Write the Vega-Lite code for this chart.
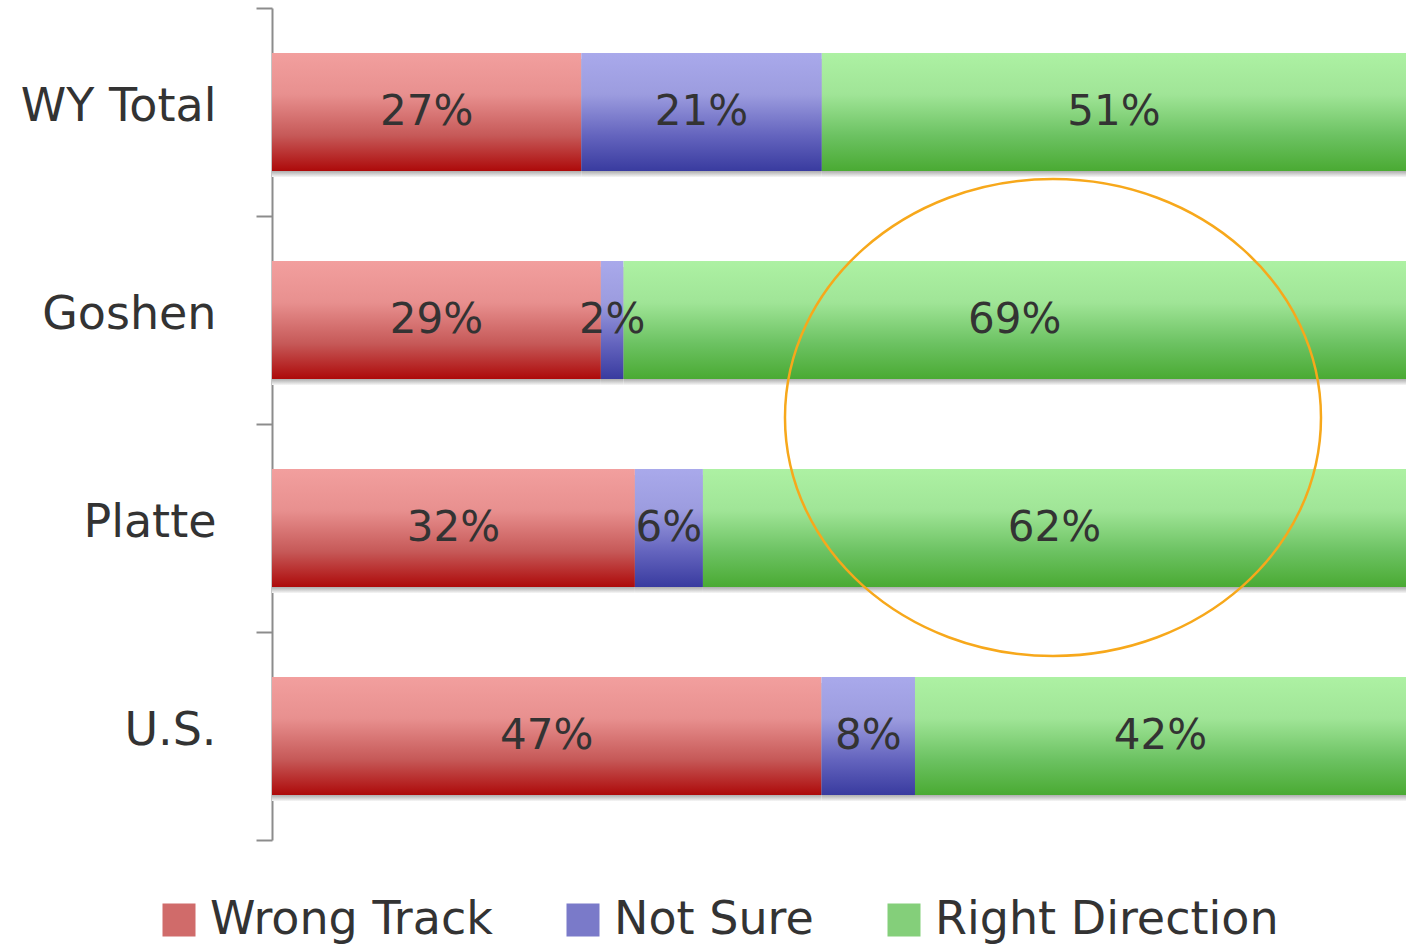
{
  "$schema": "https://vega.github.io/schema/vega-lite/v6.json",
  "width": 1134,
  "height": 832,
  "autosize": {"type": "none"},
  "padding": {"left": 272, "top": 8, "right": 0, "bottom": 107},
  "background": "white",
  "config": {"view": {"stroke": null}, "font": "DejaVu Sans"},
  "datasets": {
    "bars": [
      {"cat": "WY Total", "resp": "Wrong Track", "o": 0, "pct": 27, "label": "27%"},
      {"cat": "WY Total", "resp": "Not Sure", "o": 1, "pct": 21, "label": "21%"},
      {"cat": "WY Total", "resp": "Right Direction", "o": 2, "pct": 51, "label": "51%"},
      {"cat": "Goshen", "resp": "Wrong Track", "o": 0, "pct": 29, "label": "29%"},
      {"cat": "Goshen", "resp": "Not Sure", "o": 1, "pct": 2, "label": "2%"},
      {"cat": "Goshen", "resp": "Right Direction", "o": 2, "pct": 69, "label": "69%"},
      {"cat": "Platte", "resp": "Wrong Track", "o": 0, "pct": 32, "label": "32%"},
      {"cat": "Platte", "resp": "Not Sure", "o": 1, "pct": 6, "label": "6%"},
      {"cat": "Platte", "resp": "Right Direction", "o": 2, "pct": 62, "label": "62%"},
      {"cat": "U.S.", "resp": "Wrong Track", "o": 0, "pct": 47, "label": "47%"},
      {"cat": "U.S.", "resp": "Not Sure", "o": 1, "pct": 8, "label": "8%"},
      {"cat": "U.S.", "resp": "Right Direction", "o": 2, "pct": 42, "label": "42%"}
    ],
    "ring": [{"cat": "Goshen", "ex": 0.6887}]
  },
  "encoding": {
    "y": {
      "field": "cat", "type": "nominal",
      "sort": ["WY Total", "Goshen", "Platte", "U.S."],
      "scale": {"paddingInner": 0, "paddingOuter": 0},
      "axis": {
        "title": null, "domainColor": "#8c8c8c", "domainWidth": 2,
        "tickColor": "#8c8c8c", "tickWidth": 2, "tickSize": 16, "tickBand": "extent",
        "labelFontSize": 46, "labelColor": "#333333", "labelPadding": 40, "labelFont": "DejaVu Sans",
        "labelLimit": 0, "labelOffset": -6
      }
    }
  },
  "layer": [
    {
      "data": {"name": "bars"},
      "mark": {"type": "bar", "yOffset": 6, "height": {"band": 0.567}, "color": {"gradient": "linear", "x1": 0, "y1": 0, "x2": 0, "y2": 1, "stops": [
        {"offset": 0, "color": "#b4b4b4"}, {"offset": 0.955, "color": "#b4b4b4"}, {"offset": 1, "color": "#f6f6f6"}]}},
      "encoding": {
        "x": {"field": "pct", "type": "quantitative", "stack": "normalize", "axis": null, "scale": {"domain": [0, 1], "nice": false}},
        "detail": {"field": "resp"},
        "order": {"field": "o", "type": "quantitative"}
      }
    },
    {
      "data": {"name": "bars"},
      "mark": {"type": "bar", "height": {"band": 0.567}},
      "encoding": {
        "x": {"field": "pct", "type": "quantitative", "stack": "normalize"},
        "detail": {"field": "resp"},
        "order": {"field": "o", "type": "quantitative"},
        "fill": {
          "condition": [
            {"test": "datum.resp === 'Wrong Track'", "value": {"gradient": "linear", "x1": 0, "y1": 0, "x2": 0, "y2": 1, "stops": [
              {"offset": 0, "color": "#F29F9E"}, {"offset": 0.35, "color": "#E8908F"},
              {"offset": 0.7, "color": "#C65958"}, {"offset": 1, "color": "#AD0A0A"}]}},
            {"test": "datum.resp === 'Not Sure'", "value": {"gradient": "linear", "x1": 0, "y1": 0, "x2": 0, "y2": 1, "stops": [
              {"offset": 0, "color": "#A9A9EB"}, {"offset": 0.35, "color": "#9C9CDF"},
              {"offset": 0.7, "color": "#6464BE"}, {"offset": 1, "color": "#393B9F"}]}}
          ],
          "value": {"gradient": "linear", "x1": 0, "y1": 0, "x2": 0, "y2": 1, "stops": [
            {"offset": 0, "color": "#ADF1A3"}, {"offset": 0.35, "color": "#A0E597"},
            {"offset": 0.7, "color": "#6CC262"}, {"offset": 1, "color": "#4AAA33"}]}
        }
      }
    },
    {
      "data": {"name": "bars"},
      "mark": {"type": "text", "fontSize": 42, "color": "#333333", "font": "DejaVu Sans"},
      "encoding": {
        "x": {"field": "pct", "type": "quantitative", "stack": "normalize", "bandPosition": 0.5},
        "detail": {"field": "resp"},
        "order": {"field": "o", "type": "quantitative"},
        "text": {"field": "label"}
      }
    },
    {
      "data": {"name": "bars"},
      "mark": {"type": "point", "filled": true, "opacity": 0, "size": 1},
      "encoding": {
        "fill": {
          "field": "resp", "type": "nominal",
          "scale": {"domain": ["Wrong Track", "Not Sure", "Right Direction"], "range": ["#D06B6A", "#7A7AC9", "#84CF7A"]},
          "legend": {
            "orient": "none", "legendX": -116, "legendY": 889, "direction": "horizontal",
            "title": null, "symbolType": "square", "symbolSize": 1089, "symbolStrokeWidth": 0,
            "symbolOpacity": 1, "labelLimit": 0,
            "labelFontSize": 46, "labelColor": "#333333", "labelFont": "DejaVu Sans",
            "labelOffset": 8, "columnPadding": 67, "padding": 0
          }
        }
      }
    },
    {
      "data": {"name": "ring"},
      "mark": {
        "type": "point",
        "shape": "M -1.1237 0.4088 A 1.1237 1 0 1 1 1.1237 0.4088 A 1.1237 1 0 1 1 -1.1237 0.4088 Z",
        "filled": false, "stroke": "#F7A81B", "strokeWidth": 2.5, "opacity": 1, "size": 227529
      },
      "encoding": {
        "x": {"field": "ex", "type": "quantitative"}
      }
    }
  ]
}
